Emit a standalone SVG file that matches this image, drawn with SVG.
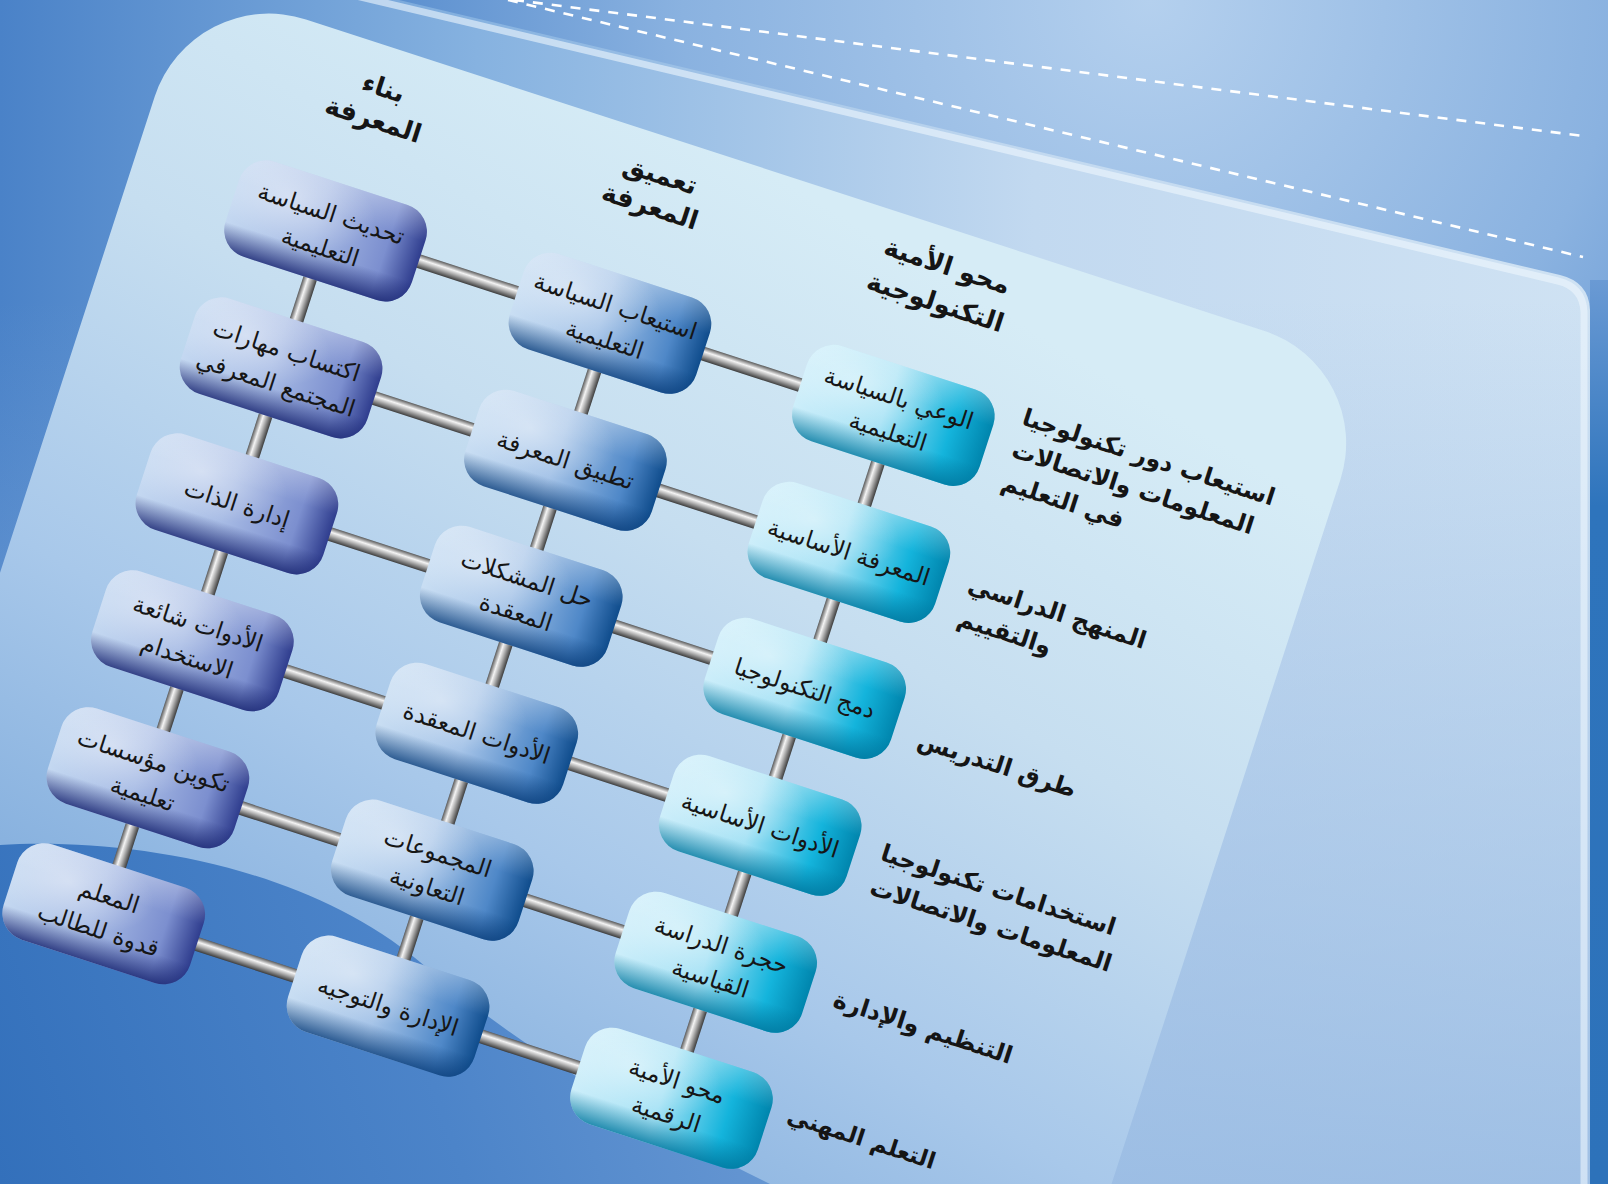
<svg xmlns="http://www.w3.org/2000/svg" width="1608" height="1184" viewBox="0 0 1608 1184">
<defs>
  <radialGradient id="bgGrad" cx="1150" cy="0" r="850" gradientUnits="userSpaceOnUse">
    <stop offset="0" stop-color="#b4d0ee"/>
    <stop offset="0.55" stop-color="#8ab2e0"/>
    <stop offset="1" stop-color="#4d85ca"/>
  </radialGradient>
  <linearGradient id="pageGrad" x1="0" y1="0" x2="1590" y2="0" gradientUnits="userSpaceOnUse">
    <stop offset="0" stop-color="#4a82c8"/>
    <stop offset="0.3" stop-color="#86b2e0"/>
    <stop offset="0.65" stop-color="#c2d9f0"/>
    <stop offset="1" stop-color="#cfe2f3"/>
  </linearGradient>
  <linearGradient id="pageShade" x1="0" y1="300" x2="0" y2="1184" gradientUnits="userSpaceOnUse">
    <stop offset="0" stop-color="#8fb4e0" stop-opacity="0"/>
    <stop offset="1" stop-color="#8fb4e0" stop-opacity="0.75"/>
  </linearGradient>
  <linearGradient id="stripGrad" x1="0" y1="280" x2="0" y2="1184" gradientUnits="userSpaceOnUse">
    <stop offset="0" stop-color="#6a9ad4"/>
    <stop offset="0.25" stop-color="#2e74bc"/>
    <stop offset="1" stop-color="#2d72ba"/>
  </linearGradient>
  <linearGradient id="panelGrad" x1="933" y1="-40" x2="671" y2="1096" gradientUnits="userSpaceOnUse">
    <stop offset="0" stop-color="#d6ecf6"/>
    <stop offset="0.3" stop-color="#c6def0"/>
    <stop offset="0.6" stop-color="#a8c8ea"/>
    <stop offset="0.85" stop-color="#86b0de"/>
    <stop offset="1" stop-color="#6f9fd6"/>
  </linearGradient>
  <linearGradient id="swooshGrad" x1="0" y1="1184" x2="700" y2="950" gradientUnits="userSpaceOnUse">
    <stop offset="0" stop-color="#3370bb"/>
    <stop offset="0.6" stop-color="#4c84c9"/>
    <stop offset="1" stop-color="#6596d2"/>
  </linearGradient>

  <linearGradient id="g1" x1="0" y1="0" x2="1" y2="0">
    <stop offset="0" stop-color="#c4d8f1"/>
    <stop offset="0.45" stop-color="#a8bce5"/>
    <stop offset="0.82" stop-color="#7c8fcf"/>
    <stop offset="1" stop-color="#2f3d8e"/>
  </linearGradient>
  <linearGradient id="g2" x1="0" y1="0" x2="1" y2="0">
    <stop offset="0" stop-color="#c9def3"/>
    <stop offset="0.45" stop-color="#a6c4e8"/>
    <stop offset="0.82" stop-color="#4f88c8"/>
    <stop offset="1" stop-color="#0f4c8c"/>
  </linearGradient>
  <linearGradient id="g3" x1="0" y1="0" x2="1" y2="0">
    <stop offset="0" stop-color="#cdeefa"/>
    <stop offset="0.45" stop-color="#a6e2f5"/>
    <stop offset="0.8" stop-color="#14b4dc"/>
    <stop offset="1" stop-color="#0085ad"/>
  </linearGradient>
  <linearGradient id="shade1" x1="0" y1="0" x2="0" y2="1">
    <stop offset="0" stop-color="#ffffff" stop-opacity="0.25"/>
    <stop offset="0.3" stop-color="#ffffff" stop-opacity="0"/>
    <stop offset="0.72" stop-color="#1d2a75" stop-opacity="0"/>
    <stop offset="1" stop-color="#1d2a75" stop-opacity="0.85"/>
  </linearGradient>
  <linearGradient id="shade2" x1="0" y1="0" x2="0" y2="1">
    <stop offset="0" stop-color="#ffffff" stop-opacity="0.25"/>
    <stop offset="0.3" stop-color="#ffffff" stop-opacity="0"/>
    <stop offset="0.72" stop-color="#0b3f7c" stop-opacity="0"/>
    <stop offset="1" stop-color="#0b3f7c" stop-opacity="0.8"/>
  </linearGradient>
  <linearGradient id="shade3" x1="0" y1="0" x2="0" y2="1">
    <stop offset="0" stop-color="#ffffff" stop-opacity="0.25"/>
    <stop offset="0.3" stop-color="#ffffff" stop-opacity="0"/>
    <stop offset="0.72" stop-color="#00779e" stop-opacity="0"/>
    <stop offset="1" stop-color="#00779e" stop-opacity="0.8"/>
  </linearGradient>
  <radialGradient id="hl" cx="0.28" cy="0.3" r="0.45">
    <stop offset="0" stop-color="#ffffff" stop-opacity="0.45"/>
    <stop offset="1" stop-color="#ffffff" stop-opacity="0"/>
  </radialGradient>
  <linearGradient id="barH" x1="0" y1="0" x2="0" y2="1">
    <stop offset="0" stop-color="#5a5a5a"/>
    <stop offset="0.35" stop-color="#f4f4f4"/>
    <stop offset="0.6" stop-color="#b0b0b0"/>
    <stop offset="1" stop-color="#3c3c3c"/>
  </linearGradient>
  <linearGradient id="barV" x1="0" y1="0" x2="1" y2="0">
    <stop offset="0" stop-color="#5a5a5a"/>
    <stop offset="0.35" stop-color="#f4f4f4"/>
    <stop offset="0.6" stop-color="#b0b0b0"/>
    <stop offset="1" stop-color="#3c3c3c"/>
  </linearGradient>
  <rect id="box" x="-98" y="-50" width="196" height="100" rx="28" ry="28"/>
  <style>
    .b1 { fill: url(#g1); }
    .b2 { fill: url(#g2); }
    .b3 { fill: url(#g3); }
    .s1 { fill: url(#shade1); }
    .s2 { fill: url(#shade2); }
    .s3 { fill: url(#shade3); }
    .hl { fill: url(#hl); }
    .bh { fill: url(#barH); }
    .bv { fill: url(#barV); }
    .t { font-family: "DejaVu Sans", "Noto Sans", sans-serif; font-size: 23.5px; fill: #161616; text-anchor: middle; }
    .h { font-family: "DejaVu Sans", "Noto Sans", sans-serif; font-size: 26px; font-weight: bold; fill: #151515; text-anchor: middle; }
    .r { font-family: "DejaVu Sans", "Noto Sans", sans-serif; font-size: 24px; font-weight: bold; fill: #151515; text-anchor: start; }
    .dash { fill: none; stroke: #ffffff; stroke-width: 2.6; stroke-dasharray: 10 9; }
  </style>
</defs>

<!-- background -->
<rect x="0" y="0" width="1608" height="1184" fill="url(#bgGrad)"/>
<path d="M-150,-130 L1560,275 Q1589,282 1590,310 L1590,1184 L-150,1184 Z" fill="url(#pageGrad)"/>
<path d="M-150,-130 L1560,275 Q1589,282 1590,310 L1590,1184 L-150,1184 Z" fill="url(#pageShade)"/>
<path d="M-150,-124 L1558,281 Q1583,287 1584,312 L1584,1184" fill="none" stroke="#eef6fd" stroke-width="7" stroke-opacity="0.6"/>
<rect x="1590" y="280" width="18" height="904" fill="url(#stripGrad)"/>
<line class="dash" x1="514" y1="0" x2="1583" y2="136"/>
<line class="dash" x1="508" y1="0" x2="1583" y2="257"/>

<!-- front panel -->
<g transform="rotate(18)">
  <path d="M177,1400 L177,44 A120,120 0 0 1 297,-76 L1305,-76 A118,118 0 0 1 1423,42 L1423,1400 Z" fill="url(#panelGrad)"/>
</g>
<path d="M0,845 C120,838 300,862 420,962 C500,1032 620,1110 770,1184 L0,1184 Z" fill="url(#swooshGrad)"/>

<g transform="rotate(18)">
  <!-- column headers -->
  <g id="headers">
    <text class="h" x="392" y="-26">بناء</text>
    <text class="h" x="392" y="7">المعرفة</text>
    <text class="h" x="682" y="-29">تعميق</text>
    <text class="h" x="682" y="4">المعرفة</text>
    <text class="h" x="983" y="-31">محو الأمية</text>
    <text class="h" x="983" y="7">التكنولوجية</text>
  </g>

  <!-- connectors -->
  <g id="connectors">
    <rect class="bh" x="470" y="112" width="120" height="14"/>
    <rect class="bh" x="769" y="112" width="120" height="14"/>
    <rect class="bh" x="470" y="256" width="120" height="14"/>
    <rect class="bh" x="769" y="256" width="120" height="14"/>
    <rect class="bh" x="470" y="399" width="120" height="14"/>
    <rect class="bh" x="769" y="399" width="120" height="14"/>
    <rect class="bh" x="470" y="543" width="120" height="14"/>
    <rect class="bh" x="769" y="543" width="120" height="14"/>
    <rect class="bh" x="470" y="687" width="120" height="14"/>
    <rect class="bh" x="769" y="687" width="120" height="14"/>
    <rect class="bh" x="470" y="830" width="120" height="14"/>
    <rect class="bh" x="769" y="830" width="120" height="14"/>

    <rect class="bv" x="374" y="160" width="14" height="64"/>
    <rect class="bv" x="374" y="304" width="14" height="64"/>
    <rect class="bv" x="374" y="447" width="14" height="64"/>
    <rect class="bv" x="374" y="591" width="14" height="64"/>
    <rect class="bv" x="374" y="735" width="14" height="64"/>
    <rect class="bv" x="673" y="160" width="14" height="64"/>
    <rect class="bv" x="673" y="304" width="14" height="64"/>
    <rect class="bv" x="673" y="447" width="14" height="64"/>
    <rect class="bv" x="673" y="591" width="14" height="64"/>
    <rect class="bv" x="673" y="735" width="14" height="64"/>
    <rect class="bv" x="971" y="160" width="14" height="64"/>
    <rect class="bv" x="971" y="304" width="14" height="64"/>
    <rect class="bv" x="971" y="447" width="14" height="64"/>
    <rect class="bv" x="971" y="591" width="14" height="64"/>
    <rect class="bv" x="971" y="735" width="14" height="64"/>
  </g>

  <!-- column 1: بناء المعرفة -->
  <g id="node-r1-c1" transform="translate(381,119)">
    <use href="#box" class="b1"/><use href="#box" class="s1"/><use href="#box" class="hl"/>
    <text class="t" x="0" y="-10">تحديث السياسة</text>
    <text class="t" x="0" y="25">التعليمية</text>
  </g>
  <g id="node-r2-c1" transform="translate(381,263)">
    <use href="#box" class="b1"/><use href="#box" class="s1"/><use href="#box" class="hl"/>
    <text class="t" x="0" y="-10">اكتساب مهارات</text>
    <text class="t" x="0" y="25">المجتمع المعرفي</text>
  </g>
  <g id="node-r3-c1" transform="translate(381,406)">
    <use href="#box" class="b1"/><use href="#box" class="s1"/><use href="#box" class="hl"/>
    <text class="t" x="0" y="8">إدارة الذات</text>
  </g>
  <g id="node-r4-c1" transform="translate(381,550)">
    <use href="#box" class="b1"/><use href="#box" class="s1"/><use href="#box" class="hl"/>
    <text class="t" x="0" y="-10">الأدوات شائعة</text>
    <text class="t" x="0" y="25">الاستخدام</text>
  </g>
  <g id="node-r5-c1" transform="translate(381,694)">
    <use href="#box" class="b1"/><use href="#box" class="s1"/><use href="#box" class="hl"/>
    <text class="t" x="0" y="-10">تكوين مؤسسات</text>
    <text class="t" x="0" y="25">تعليمية</text>
  </g>
  <g id="node-r6-c1" transform="translate(381,837)">
    <use href="#box" class="b1"/><use href="#box" class="s1"/><use href="#box" class="hl"/>
    <text class="t" x="0" y="-10">المعلم</text>
    <text class="t" x="0" y="25">قدوة للطالب</text>
  </g>

  <!-- column 2: تعميق المعرفة -->
  <g id="node-r1-c2" transform="translate(680,119)">
    <use href="#box" class="b2"/><use href="#box" class="s2"/><use href="#box" class="hl"/>
    <text class="t" x="0" y="-10">استيعاب السياسة</text>
    <text class="t" x="0" y="25">التعليمية</text>
  </g>
  <g id="node-r2-c2" transform="translate(680,263)">
    <use href="#box" class="b2"/><use href="#box" class="s2"/><use href="#box" class="hl"/>
    <text class="t" x="0" y="8">تطبيق المعرفة</text>
  </g>
  <g id="node-r3-c2" transform="translate(680,406)">
    <use href="#box" class="b2"/><use href="#box" class="s2"/><use href="#box" class="hl"/>
    <text class="t" x="0" y="-10">حل المشكلات</text>
    <text class="t" x="0" y="25">المعقدة</text>
  </g>
  <g id="node-r4-c2" transform="translate(680,550)">
    <use href="#box" class="b2"/><use href="#box" class="s2"/><use href="#box" class="hl"/>
    <text class="t" x="0" y="8">الأدوات المعقدة</text>
  </g>
  <g id="node-r5-c2" transform="translate(680,694)">
    <use href="#box" class="b2"/><use href="#box" class="s2"/><use href="#box" class="hl"/>
    <text class="t" x="0" y="-10">المجموعات</text>
    <text class="t" x="0" y="25">التعاونية</text>
  </g>
  <g id="node-r6-c2" transform="translate(680,837)">
    <use href="#box" class="b2"/><use href="#box" class="s2"/><use href="#box" class="hl"/>
    <text class="t" x="0" y="8">الإدارة والتوجيه</text>
  </g>

  <!-- column 3: محو الأمية التكنولوجية -->
  <g id="node-r1-c3" transform="translate(978,119)">
    <use href="#box" class="b3"/><use href="#box" class="s3"/><use href="#box" class="hl"/>
    <text class="t" x="0" y="-10">الوعي بالسياسة</text>
    <text class="t" x="0" y="25">التعليمية</text>
  </g>
  <g id="node-r2-c3" transform="translate(978,263)">
    <use href="#box" class="b3"/><use href="#box" class="s3"/><use href="#box" class="hl"/>
    <text class="t" x="0" y="8">المعرفة الأساسية</text>
  </g>
  <g id="node-r3-c3" transform="translate(978,406)">
    <use href="#box" class="b3"/><use href="#box" class="s3"/><use href="#box" class="hl"/>
    <text class="t" x="0" y="8">دمج التكنولوجيا</text>
  </g>
  <g id="node-r4-c3" transform="translate(978,550)">
    <use href="#box" class="b3"/><use href="#box" class="s3"/><use href="#box" class="hl"/>
    <text class="t" x="0" y="8">الأدوات الأساسية</text>
  </g>
  <g id="node-r5-c3" transform="translate(978,694)">
    <use href="#box" class="b3"/><use href="#box" class="s3"/><use href="#box" class="hl"/>
    <text class="t" x="0" y="-10">حجرة الدراسة</text>
    <text class="t" x="0" y="25">القياسية</text>
  </g>
  <g id="node-r6-c3" transform="translate(978,837)">
    <use href="#box" class="b3"/><use href="#box" class="s3"/><use href="#box" class="hl"/>
    <text class="t" x="0" y="-10">محو الأمية</text>
    <text class="t" x="0" y="25">الرقمية</text>
  </g>

  <!-- row labels -->
  <g id="row-labels">
    <text class="r" x="1102" y="88">استيعاب دور تكنولوجيا</text>
    <text class="r" x="1102" y="122">المعلومات والاتصالات</text>
    <text class="r" x="1102" y="156">في التعليم</text>
    <text class="r" x="1102" y="264">المنهج الدراسي</text>
    <text class="r" x="1102" y="299">والتقييم</text>
    <text class="r" x="1102" y="427">طرق التدريس</text>
    <text class="r" x="1102" y="546">استخدامات تكنولوجيا</text>
    <text class="r" x="1102" y="582">المعلومات والاتصالات</text>
    <text class="r" x="1102" y="700">التنظيم والإدارة</text>
    <text class="r" x="1094" y="824" style="font-size:23px">التعلم المهني</text>
  </g>
</g>
</svg>
